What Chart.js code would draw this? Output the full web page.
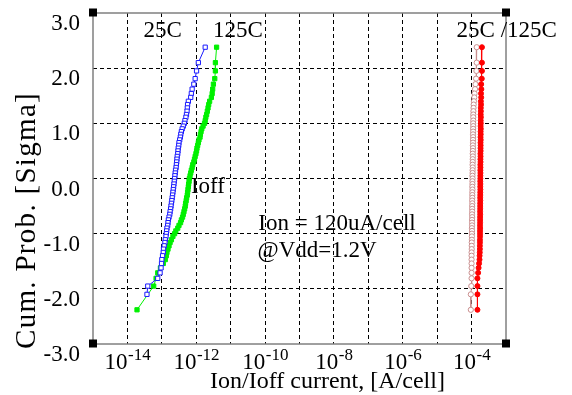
<!DOCTYPE html>
<html><head><meta charset="utf-8">
<script src="https://cdn.jsdelivr.net/npm/chart.js@4.4.1/dist/chart.umd.min.js"></script>
<style>html,body{margin:0;padding:0;background:#fff}#wrap{width:572px;height:395px}</style>
</head><body><div id="wrap"><canvas id="c" width="572" height="395"></canvas></div>
<script>
// Cumulative probability levels (sigma) of the plotted samples
const sigmaLevels = [2.38, 2.10, 1.95, 1.81, 1.71, 1.62, 1.54, 1.47, 1.40, 1.34, 1.28, 1.22, 1.16, 1.11, 1.05, 1.00,
  0.95, 0.90, 0.85, 0.80, 0.75, 0.70, 0.65, 0.60, 0.55, 0.50, 0.45, 0.40, 0.35, 0.30, 0.25, 0.20, 0.15, 0.10, 0.05, 0.00,
  -0.05, -0.10, -0.15, -0.20, -0.25, -0.30, -0.35, -0.40, -0.45, -0.50, -0.55, -0.60, -0.65, -0.70, -0.75, -0.80, -0.85, -0.90, -0.95,
  -1.00, -1.05, -1.11, -1.16, -1.22, -1.28, -1.34, -1.40, -1.47, -1.54, -1.62, -1.71, -1.81, -1.95, -2.10, -2.38];

// Ioff at 25C [A/cell] (null = no sample at that level)
const ioff25C = [1.82e-12, 1.15e-12, 1.02e-12, 9.3e-13, 8.5e-13, 7.6e-13, 7.2e-13, 6.9e-13, 5.9e-13, 5.6e-13, 5.5e-13, 5.4e-13, 5.2e-13, 5.0e-13, 4.7e-13, 4.5e-13,
  4.2e-13, 3.9e-13, 3.7e-13, 3.55e-13, 3.45e-13, 3.3e-13, 3.15e-13, 3.1e-13, 3.0e-13, 2.95e-13, 2.9e-13, 2.8e-13, 2.75e-13, 2.7e-13, 2.65e-13, 2.6e-13, 2.5e-13, 2.45e-13, 2.4e-13, 2.35e-13,
  2.3e-13, 2.25e-13, 2.2e-13, 2.15e-13, 2.1e-13, 2.05e-13, 2.0e-13, 1.95e-13, 1.9e-13, 1.85e-13, 1.8e-13, 1.74e-13, 1.7e-13, 1.62e-13, 1.55e-13, 1.51e-13, 1.48e-13, 1.41e-13, 1.38e-13,
  1.35e-13, 1.32e-13, 1.26e-13, 1.23e-13, 1.17e-13, 1.12e-13, 1.10e-13, 1.05e-13, 1.0e-13, 9.8e-14, 9.5e-14, 8.9e-14, 7.6e-14, 3.9e-14, 3.7e-14, null];

// Ioff at 125C [A/cell]
const ioff125C = [3.9e-12, 3.6e-12, 3.6e-12, 3.45e-12, 3.15e-12, 3.0e-12, 2.9e-12, 2.75e-12, 2.45e-12, 2.3e-12, 2.2e-12, 2.1e-12, 2.0e-12, 1.9e-12, 1.82e-12, 1.74e-12,
  1.58e-12, 1.45e-12, 1.38e-12, 1.32e-12, 1.29e-12, 1.2e-12, 1.15e-12, 1.1e-12, 1.05e-12, 1.02e-12, 9.8e-13, 9.3e-13, 8.9e-13, 8.5e-13, 7.9e-13, 7.6e-13, 7.2e-13, 6.9e-13, 6.6e-13, 6.3e-13,
  6.2e-13, 6.0e-13, 5.9e-13, 5.75e-13, 5.6e-13, 5.5e-13, 5.25e-13, 5.1e-13, 4.9e-13, 4.8e-13, 4.6e-13, 4.4e-13, 4.2e-13, 4.0e-13, 3.7e-13, 3.5e-13, 3.15e-13, 2.9e-13, 2.55e-13,
  2.35e-13, 2.1e-13, 1.9e-13, 1.74e-13, 1.62e-13, 1.51e-13, 1.41e-13, 1.35e-13, 1.26e-13, 1.10e-13, 9.1e-14, 7.6e-14, 6.8e-14, 5.8e-14, null, 1.9e-14];

// Ion at 25C [A/cell]
const ion25C = [1.41e-4, 1.41e-4, 1.38e-4, 1.35e-4, 1.30e-4, 1.26e-4, 1.22e-4, 1.20e-4, 1.17e-4, 1.15e-4, 1.14e-4, 1.13e-4, 1.12e-4, 1.12e-4, 1.12e-4, 1.11e-4,
  1.12e-4, 1.11e-4, 1.11e-4, 1.10e-4, 1.11e-4, 1.10e-4, 1.10e-4, 1.09e-4, 1.10e-4, 1.09e-4, 1.08e-4, 1.09e-4, 1.08e-4, 1.08e-4, 1.07e-4, 1.08e-4, 1.07e-4, 1.07e-4, 1.06e-4, 1.07e-4,
  1.06e-4, 1.06e-4, 1.05e-4, 1.06e-4, 1.05e-4, 1.05e-4, 1.05e-4, 1.04e-4, 1.05e-4, 1.04e-4, 1.04e-4, 1.04e-4, 1.03e-4, 1.04e-4, 1.03e-4, 1.03e-4, 1.03e-4, 1.02e-4, 1.03e-4,
  1.02e-4, 1.02e-4, 1.02e-4, 1.01e-4, 1.01e-4, 1.01e-4, 1.00e-4, 1.00e-4, 1.00e-4, 1.00e-4, 1.00e-4, 1.00e-4, 1.00e-4, 9.8e-5, 9.5e-5, 9.5e-5];

// Ion at 125C [A/cell]
const ion125C = [2.0e-4, 2.0e-4, 2.0e-4, 1.98e-4, 1.90e-4, 1.92e-4, 1.88e-4, 1.90e-4, 1.86e-4, 1.88e-4, 1.85e-4, 1.86e-4, 1.84e-4, 1.86e-4, 1.84e-4, 1.85e-4,
  1.83e-4, 1.85e-4, 1.83e-4, 1.84e-4, 1.82e-4, 1.84e-4, 1.82e-4, 1.83e-4, 1.82e-4, 1.83e-4, 1.81e-4, 1.82e-4, 1.81e-4, 1.82e-4, 1.80e-4, 1.81e-4, 1.80e-4, 1.81e-4, 1.80e-4, 1.80e-4,
  1.79e-4, 1.80e-4, 1.79e-4, 1.80e-4, 1.79e-4, 1.79e-4, 1.78e-4, 1.79e-4, 1.78e-4, 1.78e-4, 1.78e-4, 1.77e-4, 1.78e-4, 1.77e-4, 1.77e-4, 1.77e-4, 1.76e-4, 1.77e-4, 1.76e-4,
  1.76e-4, 1.76e-4, 1.75e-4, 1.75e-4, 1.74e-4, 1.74e-4, 1.73e-4, 1.71e-4, 1.70e-4, 1.65e-4, 1.60e-4, 1.55e-4, 1.48e-4, 1.48e-4, 1.48e-4, 1.48e-4];

// Axis ticks
const xGridExponents = [-15, -14, -13, -12, -11, -10, -9, -8, -7, -6, -5, -4, -3];
const xLabelExponents = [-14, -12, -10, -8, -6, -4];
const yTickValues = [-3, -2, -1, 0, 1, 2, 3];

// Text annotations placed in data coordinates
const annotationTexts = ['25C', '125C', '25C /125C', 'Ioff', 'Ion = 120uA/cell', '@Vdd=1.2V'];
const annotationX = [1.05e-13, 1.62e-11, 1.05e-3, 2.19e-12, 1.23e-8, 3.24e-9];
const annotationY = [2.67, 2.67, 2.67, -0.145, -0.815, -1.31];

const xTitle = 'Ion/Ioff current, [A/cell]';
const yTitle = 'Cum. Prob. [Sigma]';

function pairs(xs) {
  const out = [];
  xs.forEach((v, i) => { if (v !== null) out.push({ x: v, y: sigmaLevels[i] }); });
  return out;
}

const SERIF = "'Liberation Serif','Times New Roman',serif";
Chart.defaults.font.family = SERIF;
Chart.defaults.color = '#000';

const decor = {
  id: 'decor',
  afterDraw(chart) {
    const ctx = chart.ctx, a = chart.chartArea, xs = chart.scales.x, ys = chart.scales.y;
    ctx.save();
    // plot frame
    ctx.strokeStyle = '#808080';
    ctx.lineWidth = 1.5;
    ctx.setLineDash([]);
    ctx.strokeRect(a.left, a.top, a.right - a.left, a.bottom - a.top);
    // corner handles
    ctx.fillStyle = '#000';
    [[a.left, a.top], [a.right, a.top], [a.left, a.bottom], [a.right, a.bottom]].forEach(([cx, cy]) => {
      ctx.fillRect(cx - 4, cy - 4.5, 8, 8);
    });
    // x tick labels with superscript exponents
    ctx.fillStyle = '#000';
    ctx.textBaseline = 'alphabetic';
    ctx.textAlign = 'left';
    xLabelExponents.forEach(e => {
      const px = xs.getPixelForValue(Math.pow(10, e));
      ctx.font = '23px ' + SERIF;
      const w1 = ctx.measureText('10').width;
      ctx.font = '17px ' + SERIF;
      const exp = String(e);
      const w2 = ctx.measureText(exp).width;
      const start = px - (w1 + w2) / 2;
      ctx.font = '23px ' + SERIF;
      ctx.fillText('10', start, a.bottom + 25);
      ctx.font = '17px ' + SERIF;
      ctx.fillText(exp, start + w1 + 0.5, a.bottom + 16);
    });
    // x title
    ctx.font = '24px ' + SERIF;
    ctx.textAlign = 'center';
    ctx.fillText(xTitle, (a.left + a.right) / 2 + 28, a.bottom + 44);
    // y title
    ctx.save();
    ctx.translate(35, (a.top + a.bottom) / 2 + 42);
    ctx.rotate(-Math.PI / 2);
    ctx.font = '29px ' + SERIF;
    if ('letterSpacing' in ctx) ctx.letterSpacing = '1.3px';
    ctx.textAlign = 'center';
    ctx.textBaseline = 'alphabetic';
    ctx.fillText(yTitle, 0, 0);
    if ('letterSpacing' in ctx) ctx.letterSpacing = '0px';
    ctx.restore();
    // annotations
    ctx.font = '23px ' + SERIF;
    ctx.textAlign = 'center';
    ctx.textBaseline = 'middle';
    annotationTexts.forEach((t, i) => {
      ctx.fillText(t, xs.getPixelForValue(annotationX[i]), ys.getPixelForValue(annotationY[i]));
    });
    ctx.restore();
  }
};

const edgeTransparent = (c) => (c.index === 0 || c.index === c.scale.ticks.length - 1) ? 'rgba(0,0,0,0)' : '#000';

new Chart(document.getElementById('c'), {
  type: 'scatter',
  data: {
    datasets: [
      { label: 'Ion 125C', data: pairs(ion125C), showLine: true, borderColor: '#ff0000', backgroundColor: '#ff0000',
        borderWidth: 1, pointStyle: 'circle', pointRadius: 2.5, pointBorderWidth: 1 },
      { label: 'Ion 25C', data: pairs(ion25C), showLine: true, borderColor: '#c98e8e', backgroundColor: '#ffffff',
        borderWidth: 1, pointStyle: 'circle', pointRadius: 2.6, pointBorderWidth: 1, pointBackgroundColor: 'rgba(255,255,255,1)' },
      { label: 'Ioff 25C', data: pairs(ioff25C), showLine: true, borderColor: '#1a1aff', backgroundColor: '#ffffff',
        borderWidth: 1, pointStyle: 'rect', pointRadius: 3, pointBorderWidth: 1 },
      { label: 'Ioff 125C', data: pairs(ioff125C), showLine: true, borderColor: '#00f000', backgroundColor: '#00f000',
        borderWidth: 1, pointStyle: 'rect', pointRadius: 3, pointBorderWidth: 1 }
    ]
  },
  options: {
    responsive: false,
    animation: false,
    devicePixelRatio: 1,
    layout: { padding: { left: 0, top: 13, right: 66, bottom: 0 } },
    plugins: { legend: { display: false }, tooltip: { enabled: false } },
    scales: {
      x: {
        type: 'logarithmic',
        min: 1e-15, max: 1e-3,
        afterBuildTicks: (s) => { s.ticks = xGridExponents.map(e => ({ value: Math.pow(10, e) })); },
        afterFit: (s) => { s.height = 51; s.paddingLeft = 0; s.paddingRight = 0; },
        ticks: { display: false },
        grid: { color: edgeTransparent, lineWidth: 1, drawTicks: false },
        border: { display: false, dash: [4, 3] }
      },
      y: {
        min: -3, max: 3,
        afterBuildTicks: (s) => { s.ticks = yTickValues.map(v => ({ value: v })); },
        afterFit: (s) => { s.width = 93; s.paddingTop = 0; s.paddingBottom = 0; },
        ticks: {
          callback: (v) => Number(v).toFixed(1),
          font: { size: 23, family: SERIF, lineHeight: 1 },
          color: '#000',
          padding: 13,
          labelOffset: 11
        },
        grid: { color: edgeTransparent, lineWidth: 1, drawTicks: false },
        border: { display: false, dash: [4, 3] }
      }
    }
  },
  plugins: [decor]
});
</script>
</body></html>
